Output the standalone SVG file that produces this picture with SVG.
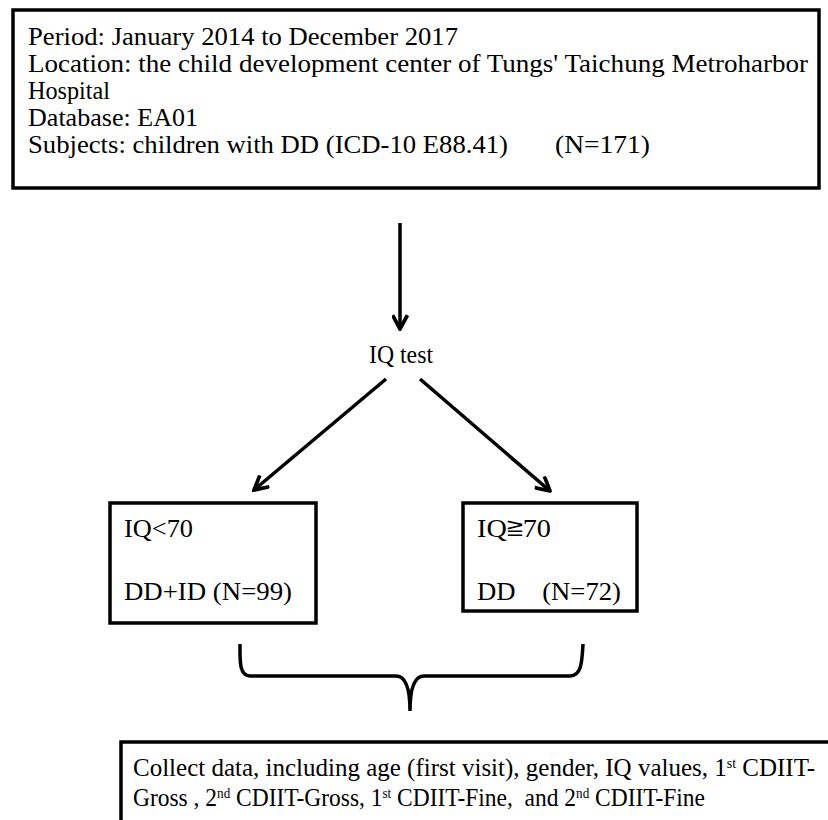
<svg xmlns="http://www.w3.org/2000/svg" width="828" height="820" viewBox="0 0 828 820">
<defs>
<style>
.box{fill:#fff;stroke:#000;stroke-width:3.5}
.t{font-family:"Liberation Serif","Tinos","Times New Roman","Nimbus Roman","FreeSerif","DejaVu Serif",serif;font-size:25px;fill:#000}
.sup{font-size:14px}
.ln{fill:none;stroke:#000;stroke-width:3.5}
</style>
<marker id="chev" viewBox="0 0 16 16" refX="14" refY="8" markerWidth="17" markerHeight="17" markerUnits="userSpaceOnUse" orient="auto">
<path d="M1,1 L14,8 L1,15" fill="none" stroke="#000" stroke-width="3.5"/>
</marker>
</defs>
<rect width="828" height="820" fill="#fff"/>
<g id="source">
<rect class="box" x="13" y="10" width="806" height="178"/>
<text class="t" x="28" y="45" textLength="430" lengthAdjust="spacingAndGlyphs">Period: January 2014 to December 2017</text>
<text class="t" x="28" y="72" textLength="780" lengthAdjust="spacingAndGlyphs">Location: the child development center of Tungs' Taichung Metroharbor</text>
<text class="t" x="28" y="99" textLength="82" lengthAdjust="spacingAndGlyphs">Hospital</text>
<text class="t" x="28" y="126" textLength="170" lengthAdjust="spacingAndGlyphs">Database: EA01</text>
<text class="t" x="28" y="153" textLength="480" lengthAdjust="spacingAndGlyphs">Subjects: children with DD (ICD-10 E88.41)</text>
<text class="t" x="555" y="153" textLength="95" lengthAdjust="spacingAndGlyphs">(N=171)</text>
</g>
<g id="iqtest">
<text class="t" x="369" y="363" textLength="64" lengthAdjust="spacingAndGlyphs">IQ test</text>
</g>
<g id="low">
<rect class="box" x="110" y="503" width="206" height="120"/>
<text class="t" x="124" y="537" textLength="69" lengthAdjust="spacingAndGlyphs">IQ&lt;70</text>
<text class="t" x="124" y="600" textLength="168" lengthAdjust="spacingAndGlyphs">DD+ID (N=99)</text>
</g>
<g id="high">
<rect class="box" x="463" y="503" width="174" height="108"/>
<text class="t" x="477" y="537" textLength="74" lengthAdjust="spacingAndGlyphs">IQ≧70</text>
<text class="t" x="477" y="600" xml:space="preserve" textLength="144" lengthAdjust="spacingAndGlyphs">DD    (N=72)</text>
</g>
<g id="collect">
<rect class="box" x="121" y="742" width="720" height="90"/>
<text class="t" x="133" y="776" textLength="682" lengthAdjust="spacingAndGlyphs">Collect data, including age (first visit), gender, IQ values, 1<tspan class="sup" dy="-8">st</tspan><tspan dy="8"> CDIIT-</tspan></text>
<text class="t" x="133" y="806" xml:space="preserve" textLength="572" lengthAdjust="spacingAndGlyphs">Gross , 2<tspan class="sup" dy="-8">nd</tspan><tspan dy="8"> CDIIT-Gross, 1</tspan><tspan class="sup" dy="-8">st</tspan><tspan dy="8"> CDIIT-Fine,  and 2</tspan><tspan class="sup" dy="-8">nd</tspan><tspan dy="8"> CDIIT-Fine</tspan></text>
</g>
<g id="connectors">
<line class="ln" x1="400" y1="223" x2="400" y2="329" marker-end="url(#chev)"/>
<line class="ln" x1="386" y1="379" x2="254" y2="490" marker-end="url(#chev)"/>
<line class="ln" x1="420" y1="379" x2="550" y2="491" marker-end="url(#chev)"/>
<path class="ln" d="M240,644 C240,660 239,676 250,676 L396,676 C405,676 410,686 410,711 C410,686 415,676 424,676 L570,676 C582,676 582,660 583,644"/>
</g>
</svg>
